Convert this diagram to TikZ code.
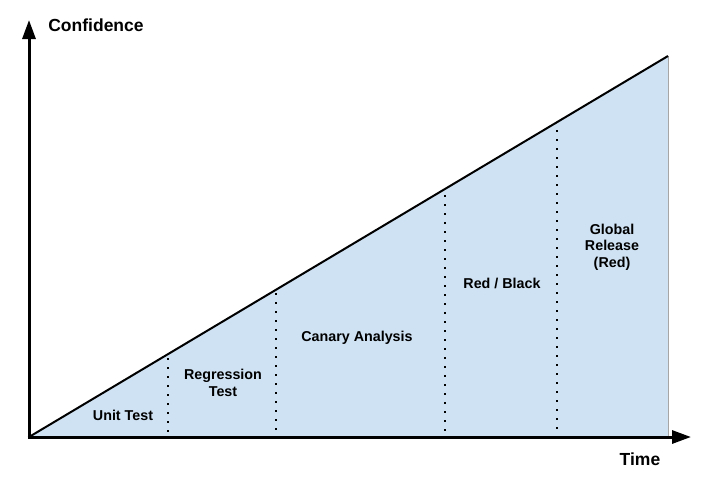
\documentclass[tikz,border=0pt]{standalone}
\usepackage{fontspec}
\setmainfont{Liberation Sans}
\usetikzlibrary{arrows.meta, positioning}
\definecolor{stageblue}{HTML}{CFE2F3}

\tikzset{
    axis/.style={line width=3pt, -{Triangle[length=19pt, width=13pt]}},
    stagesep/.style={line width=2pt, dash pattern=on 2pt off 7pt},
    stagelabel/.style={font=\fontsize{14.3}{16.3}\selectfont\bfseries, align=center, inner sep=0pt},
    axislabel/.style={font=\fontsize{17.5}{20}\selectfont\bfseries, inner sep=0pt}
}

\begin{document}
\begin{tikzpicture}[x=1pt, y=-1pt]
    \useasboundingbox (0,0) rectangle (719,482);

    % Origin and end of the confidence line
    \coordinate (O) at (29,437);
    \coordinate (top) at (668,56);
    \coordinate (foot) at (668,437);

    % Area under the line
    \fill[stageblue] (O) -- (top) -- (foot) -- cycle;
    \draw[gray!70, line width=0.6pt] (top) -- (foot);

    % Confidence line
    \draw[line width=2pt] (O) -- (top);

    % Stage borders
    \draw[stagesep] (168,358) -- (168,434);
    \draw[stagesep] (276,293) -- (276,434);
    \draw[stagesep] (445,195) -- (445,434);
    \draw[stagesep] (557,130) -- (557,434);

    % Axes
    \coordinate (yend) at (29,20);
    \coordinate (xend) at (691,437);
    \draw[axis] ([yshift=1.5pt]O) -- (yend);
    \draw[axis] ([xshift=-1.5pt]O) -- (xend);

    % Axis labels
    \node[axislabel] (conf) at (96,25) {Confidence};
    \node[axislabel] (time) at (640,459) {Time};

    % Stage labels
    \node[stagelabel] (unit) at (123,415) {Unit Test};
    \node[stagelabel] (regr) at (223,383) {Regression\\Test};
    \node[stagelabel] (canary) at (357,338) {Canary Analysis};
    \node[stagelabel] (redblack) at (502,283) {Red / Black};
    \node[stagelabel] (global) at (612,247) {Global\\Release\\(Red)};
\end{tikzpicture}
\end{document}
